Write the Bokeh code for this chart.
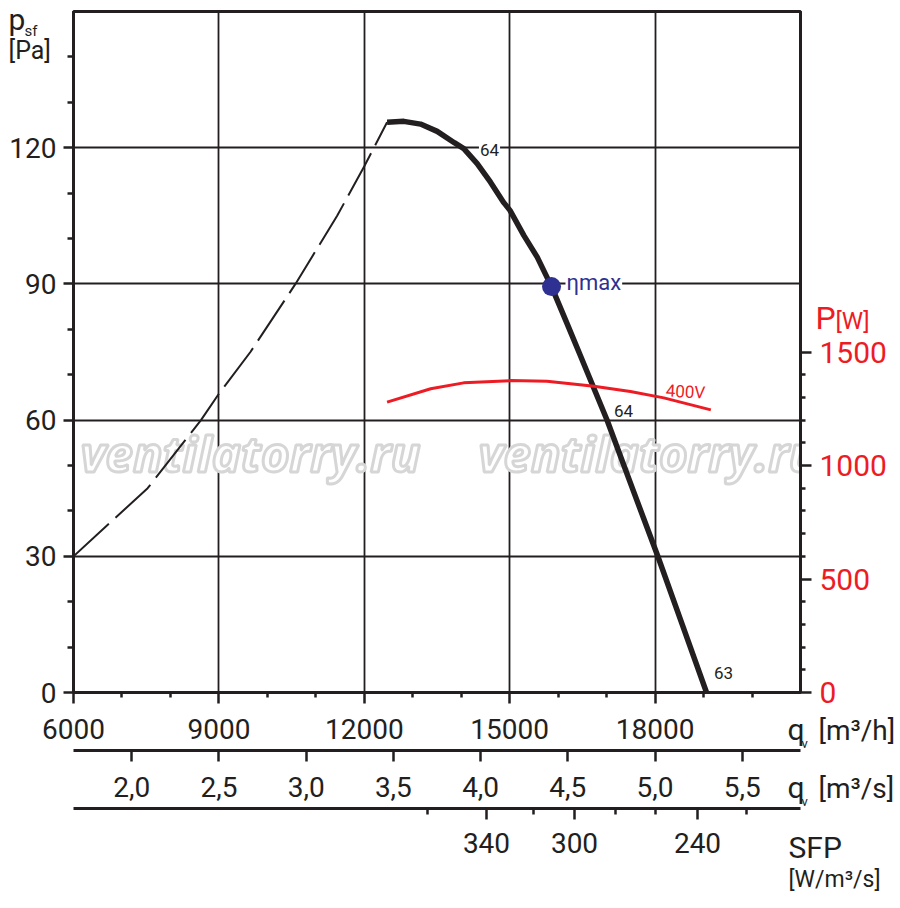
from bokeh.plotting import figure
from bokeh.models import Range1d, LinearAxis, FixedTicker, Label
from bokeh.embed import file_html
from bokeh.resources import INLINE

# ---------------- data ----------------
# fan curve (solid part), q in m3/h, psf in Pa
q_curve = [12470, 12815, 13160, 13504, 13857, 14053, 14329, 14604, 14878, 15006, 15291, 15568, 15863,
           16186, 16432, 17012, 17534, 18056, 18559, 19061]
psf_curve = [125.6, 125.8, 125.2, 123.6, 121.1, 119.8, 116.5, 112.4, 107.9, 106.2, 100.7, 95.9, 89.4,
             81.2, 74.9, 59.9, 44.9, 30.0, 15.0, 0.0]
# stall region (dashed)
q_stall = [6000, 7530, 8630, 9000, 9650, 10580, 11440, 12000, 12470]
psf_stall = [30.0, 45.0, 60.0, 65.8, 75.0, 90.0, 105.0, 115.9, 125.6]
# power input 400V, W
q_power = [12470, 13370, 14050, 15020, 15770, 16740, 17490, 18180, 19150]
power_w = [1279, 1338, 1364, 1374, 1371, 1349, 1326, 1298, 1245]
# best efficiency point
eta_q = [15863]
eta_psf = [89.4]

# axes / ticks
psf_ticks = [0, 30, 60, 90, 120]
psf_minor = [10, 20, 40, 50, 70, 80, 100, 110, 130, 140]
qh_ticks = [6000, 9000, 12000, 15000, 18000]
qh_minor = [7000, 8000, 10000, 11000, 13000, 14000, 16000, 17000, 19000, 20000]
qs_ticks = [2.0, 2.5, 3.0, 3.5, 4.0, 4.5, 5.0, 5.5]
qs_labels = ["2,0", "2,5", "3,0", "3,5", "4,0", "4,5", "5,0", "5,5"]
sfp_labels = ["340", "300", "240"]
sfp_major_q = [14521, 16337, 18875]
sfp_minor_q = [13298, 15485, 17183, 18008, 19880]
pw_ticks = [0, 500, 1000, 1500]
pw_minor = [100, 200, 300, 400, 600, 700, 800, 900, 1100, 1200, 1300, 1400]

INK = "#231f20"
RED = "#ed1c24"
BLUE = "#2e3192"
FONT = "Roboto"

# page pixel -> data helpers, used only to place text annotations
X0, X1, Y0, Y1 = 73, 800, 692, 11
def qx(px):
    return 6000 + (px - X0) * 15000 / (X1 - X0)
def py(px):
    return (Y0 - px) * 150 / (Y0 - Y1)

p = figure(frame_width=727, frame_height=681, x_range=Range1d(6000, 21000), y_range=Range1d(0, 150),
           output_backend="svg", toolbar_location=None,
           min_border_left=73, min_border_right=100, min_border_top=11, min_border_bottom=210)
p.extra_y_ranges = {"power": Range1d(0, 3000)}
p.outline_line_color = INK
p.outline_line_width = 3
p.background_fill_color = "white"

def style_axis(ax, tick_out, minor_out, standoff, label_color=INK, size="28px"):
    ax.axis_line_color = INK
    ax.axis_line_width = 3
    ax.major_tick_line_color = INK
    ax.minor_tick_line_color = INK
    ax.major_tick_line_width = 2.5
    ax.minor_tick_line_width = 2.5
    ax.major_tick_in = 0
    ax.minor_tick_in = 0
    ax.major_tick_out = tick_out
    ax.minor_tick_out = minor_out
    ax.major_label_standoff = standoff
    ax.major_label_text_font = FONT
    ax.major_label_text_font_size = size
    ax.major_label_text_color = label_color

def spacer(ax, gap):
    ax.axis_label = " "
    ax.axis_label_text_font_size = "1px"
    ax.axis_label_standoff = gap

# left axis
ya = p.yaxis[0]
ya.ticker = FixedTicker(ticks=psf_ticks, minor_ticks=psf_minor)
style_axis(ya, 10, 6, 7)

# bottom axis m3/h
xa = p.xaxis[0]
xa.ticker = FixedTicker(ticks=qh_ticks, minor_ticks=qh_minor)
style_axis(xa, 11, 5, 15)
spacer(xa, 5)

# second bottom axis m3/s
qs_pos = [int(round(v * 3600)) for v in qs_ticks]
ax2 = LinearAxis(ticker=FixedTicker(ticks=qs_pos, minor_ticks=[]),
                 major_label_overrides={k: t for k, t in zip(qs_pos, qs_labels)})
style_axis(ax2, 11, 0, 15)
spacer(ax2, 5)
p.add_layout(ax2, "below")

# third bottom axis SFP
ax3 = LinearAxis(ticker=FixedTicker(ticks=sfp_major_q, minor_ticks=sfp_minor_q),
                 major_label_overrides={k: t for k, t in zip(sfp_major_q, sfp_labels)})
style_axis(ax3, 11, 6, 13)
p.add_layout(ax3, "below")

# right axis power
ax_r = LinearAxis(y_range_name="power", ticker=FixedTicker(ticks=pw_ticks, minor_ticks=pw_minor))
style_axis(ax_r, 11, 5, 8, label_color=RED, size="30px")
p.add_layout(ax_r, "right")

# grid
for g in (p.xgrid[0], p.ygrid[0]):
    g.grid_line_color = INK
    g.grid_line_width = 1.8

# watermarks
for px_left in (80, 478):
    p.add_layout(Label(x=qx(px_left), y=py(452), text="ventilatorry.ru",
                       text_font="Open Sans", text_font_style="bold italic", text_font_size="49px",
                       text_color="white", text_outline_color="#d6d6d6",
                       text_baseline="middle", text_align="left", level="underlay"))

# curves
p.line(q_stall, psf_stall, line_color=INK, line_width=2, line_dash="48 9")
p.line(q_curve, psf_curve, line_color=INK, line_width=5.5, line_cap="butt", line_join="round")
p.line(q_power, power_w, y_range_name="power", line_color=RED, line_width=3, line_join="round")
p.scatter(eta_q, eta_psf, size=19, fill_color=BLUE, line_color=None)

def lab(x, y, text, size, color=INK, align="left", bg=None, angle=0.0, place="center"):
    l = Label(x=x, y=y, text=text, text_font=FONT, text_font_size=size, text_color=color,
              text_align=align, text_baseline="middle", angle=angle)
    if bg:
        l.background_fill_color = bg
        l.padding = 1
    p.add_layout(l, place)

# curve annotations (inside the frame)
lab(qx(489), py(149), "64", "17px", align="center", bg="white")
lab(qx(565), py(282), "\u03b7max", "22px", color=BLUE, bg="white")
lab(qx(623), py(410), "64", "17px", align="center", bg="white")
lab(qx(723), py(672), "63", "17px", align="center")
lab(qx(685), py(391), "400V", "17px", color=RED, align="center", angle=-0.06)

# axis titles (outside the frame, placed in the right side panel so they are not clipped)
R = "right"
lab(qx(8), py(19), "p", "30px", place=R)
lab(qx(24), py(30), "sf", "15px", place=R)
lab(qx(8), py(50), "[Pa]", "25px", place=R)

lab(qx(815), py(317), "P", "32px", color=RED, place=R)
lab(qx(835), py(320), "[W]", "24px", color=RED, place=R)

lab(qx(787), py(729), "q", "30px", place=R)
lab(qx(801), py(743), "v", "13px", place=R)
lab(qx(818), py(730), "[m\u00b3/h]", "28px", place=R)

lab(qx(787), py(787), "q", "30px", place=R)
lab(qx(801), py(801), "v", "13px", place=R)
lab(qx(818), py(788), "[m\u00b3/s]", "28px", place=R)

lab(qx(788), py(847), "SFP", "30px", place=R)
lab(qx(788), py(879), "[W/m\u00b3/s]", "23px", place=R)

open("out.html", "w").write(file_html(p, INLINE))
